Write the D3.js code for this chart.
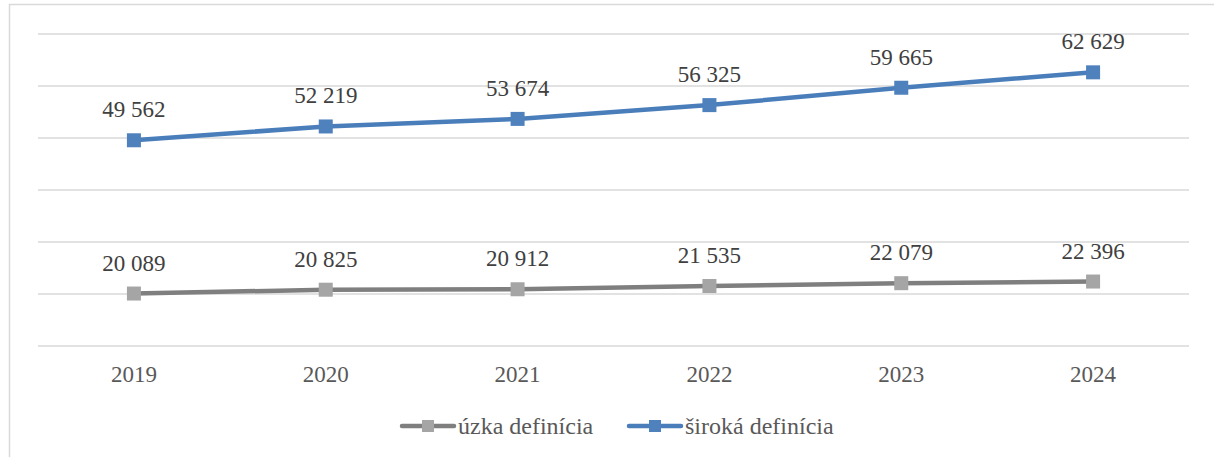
<!DOCTYPE html>
<html>
<head>
<meta charset="utf-8">
<script src="https://cdn.jsdelivr.net/npm/d3@7"></script>
<style>
  body { margin: 0; background: #fff; }
  #chart { width: 1214px; height: 457px; }
</style>
</head>
<body>
<div id="chart"></div>
<script>
var years = ["2019", "2020", "2021", "2022", "2023", "2024"]
var uzka = [20089, 20825, 20912, 21535, 22079, 22396]
var siroka = [49562, 52219, 53674, 56325, 59665, 62629]
var seriesNames = ["úzka definícia", "široká definícia"]
var gridTicks = [10000, 20000, 30000, 40000, 50000, 60000, 70000]

var width = 1214,
    height = 457
var margin = {top: 34, left: 38, right: 25, bottom: 111}

var svg = d3.select("#chart")
    .append("svg")
    .attr("width", width)
    .attr("height", height)
    .style("font-family", "'Liberation Serif', 'Times New Roman', serif")

// chart area border
svg.append("rect")
    .attr("x", 9.5).attr("y", 4.5)
    .attr("width", width + 10).attr("height", height + 10)
    .attr("fill", "none")
    .attr("stroke", "#d9d9d9")
    .attr("stroke-width", 1.5)

var x = d3.scaleBand()
    .domain(years)
    .range([margin.left, width - margin.right])

var y = d3.scaleLinear()
    .domain([10000, 70000])
    .range([height - margin.bottom, margin.top])

// gridlines
svg.append("g")
    .selectAll("line")
    .data(gridTicks)
    .enter().append("line")
    .attr("x1", margin.left)
    .attr("x2", width - margin.right)
    .attr("y1", function(d) { return y(d) })
    .attr("y2", function(d) { return y(d) })
    .attr("stroke", "#d9d9d9")
    .attr("stroke-width", 1.5)

// x labels
svg.append("g")
    .selectAll("text")
    .data(years)
    .enter().append("text")
    .attr("x", function(d) { return x(d) + x.bandwidth() / 2 })
    .attr("y", 382)
    .attr("text-anchor", "middle")
    .attr("font-size", 23)
    .attr("fill", "#595959")
    .text(function(d) { return d })

var series = [
    {name: seriesNames[0], values: uzka, line: "#7f7f7f", marker: "#a5a5a5"},
    {name: seriesNames[1], values: siroka, line: "#4a7ebb", marker: "#4f81bd"}
]

var lineGen = d3.line()
    .x(function(d, i) { return x(years[i]) + x.bandwidth() / 2 })
    .y(function(d) { return y(d) })

var fmt = function(v) {
    var s = String(v)
    return s.slice(0, s.length - 3) + " " + s.slice(s.length - 3)
}

series.forEach(function(s) {
    svg.append("path")
        .datum(s.values)
        .attr("d", lineGen)
        .attr("fill", "none")
        .attr("stroke", s.line)
        .attr("stroke-width", 4.5)
        .attr("stroke-linejoin", "round")
        .attr("stroke-linecap", "round")

    svg.append("g")
        .selectAll("rect")
        .data(s.values)
        .enter().append("rect")
        .attr("x", function(d, i) { return x(years[i]) + x.bandwidth() / 2 - 7 })
        .attr("y", function(d) { return y(d) - 7 })
        .attr("width", 14)
        .attr("height", 14)
        .attr("fill", s.marker)

    svg.append("g")
        .selectAll("text")
        .data(s.values)
        .enter().append("text")
        .attr("x", function(d, i) { return x(years[i]) + x.bandwidth() / 2 })
        .attr("y", function(d) { return y(d) - 23 })
        .attr("text-anchor", "middle")
        .attr("font-size", 23)
        .attr("fill", "#404040")
        .text(function(d) { return fmt(d) })
})

// legend
var legendPos = [400, 627]
var legend = svg.append("g")
series.forEach(function(s, i) {
    var g = legend.append("g").attr("transform", "translate(" + legendPos[i] + ",426)")
    g.append("line")
        .attr("x1", 2).attr("x2", 54)
        .attr("stroke", s.line)
        .attr("stroke-width", 4.5)
        .attr("stroke-linecap", "round")
    g.append("rect")
        .attr("x", 22).attr("y", -6)
        .attr("width", 12).attr("height", 12)
        .attr("fill", s.marker)
    g.append("text")
        .attr("x", 58)
        .attr("y", 8)
        .attr("font-size", 24)
        .attr("fill", "#595959")
        .text(s.name)
})
</script>
</body>
</html>
